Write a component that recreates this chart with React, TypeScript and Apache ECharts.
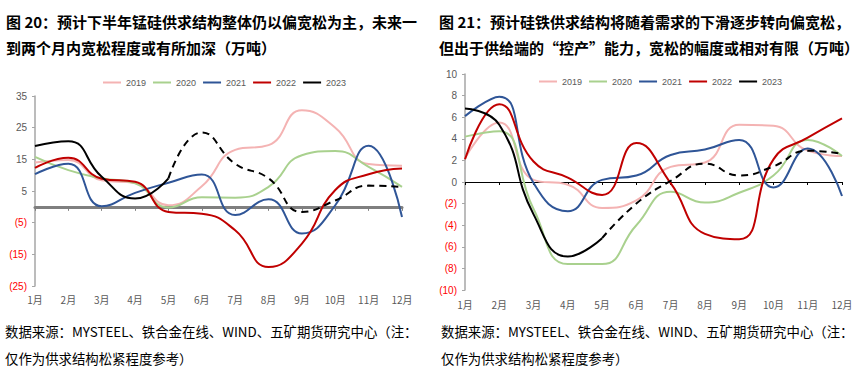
import React, { useEffect, useRef } from "react";
import * as echarts from "echarts";

const months = ["1月", "2月", "3月", "4月", "5月", "6月", "7月", "8月", "9月", "10月", "11月", "12月"];
const years = ["2019", "2020", "2021", "2022", "2023"];
const yearColors = ["#F4B3B3", "#A9D18E", "#2F5597", "#C00000", "#000000"];

// 图20 锰硅（万吨）
const mnSi2019 = [14, 14.8, 8.4, 7.5, 0.5, 6.5, 18, 19.5, 30.5, 25, 13.5, 13];
const mnSi2020 = [15.8, 11.6, 9, 7.4, -0.2, 3, 2.9, 6.3, 16.3, 17.6, 12.6, 6.3];
const mnSi2021 = [10.3, 13.6, 0.2, 4.4, 7.6, 10.2, -2.6, 2.4, -8.4, 0.5, 19.3, -3.2];
const mnSi2022 = [12.3, 15.5, 8.9, 7.9, -1.6, -2.2, -7.4, -19, -11.6, 5.3, 10.3, 12.1];
const mnSi2023 = [19.2, 20.7, 9.5, 2.6, 9];
const mnSi2023Forecast = [23.5, 13.6, 9, -1.6, 2, 6.7, 6.3];
const mnSiTicks = [35, 25, 15, 5, -5, -15, -25];

// 图21 硅铁（万吨）
const siFe2019 = [2.2, 5.5, 0.2, -0.25, -2.4, -1.7, 1.4, 1.8, 5.3, 5.2, 2.9, 2.4];
const siFe2020 = [4.2, 4.7, -2.5, -7.6, -7.6, -4, -0.9, -1.9, -1, 0.6, 3.9, 2.4];
const siFe2021 = [6.1, 7.9, -0.1, -2.7, 0.2, 0.6, 2.5, 3, 3.9, -0.5, 3.1, -1.3];
const siFe2022 = [2.1, 7.2, 1.9, 0.4, -1.2, 3.6, -0.1, -4.8, -5.3, 2.1, 4.1, 5.9];
const siFe2023 = [6.8, 5.3, -3, -6.9, -5.2];
const siFe2023Forecast = [-2, 0.1, 1.7, 0.6, 1.45, 2.9, 2.6];

const mnSiSeries = [mnSi2019, mnSi2020, mnSi2021, mnSi2022, mnSi2023];
const siFeSeries = [siFe2019, siFe2020, siFe2021, siFe2022, siFe2023];

const fmt = (v: number) => (v < 0 ? `(${-v})` : `${v}`);
const labelColor = (v: any) => (Number(v) < 0 ? "#FF0000" : "#595959");

function forecastData(actual: number[], fc: number[]) {
  const d: (number | null)[] = months.map(() => null);
  d[actual.length - 1] = actual[actual.length - 1];
  fc.forEach((v, i) => (d[actual.length + i] = v));
  return d;
}

function buildSeries(data: number[][], fc: number[], xIdx: number, yIdx: number, w: number) {
  const s: any[] = data.map((arr, i) => ({
    name: years[i],
    type: "line",
    xAxisIndex: xIdx,
    yAxisIndex: yIdx,
    data: arr,
    smooth: 0.5,
    symbol: "none",
    lineStyle: { color: yearColors[i], width: w },
    itemStyle: { color: yearColors[i] },
    z: i === 4 ? 5 : 3,
  }));
  s.push({
    name: "2023预测",
    type: "line",
    xAxisIndex: xIdx,
    yAxisIndex: yIdx,
    data: forecastData(data[4], fc),
    smooth: 0.5,
    symbol: "none",
    connectNulls: false,
    lineStyle: { color: "#000", width: w, type: [7, 5] },
    itemStyle: { color: "#000" },
    z: 5,
  });
  return s;
}

const fontLatin = "Arial, 'Liberation Sans', 'Noto Sans CJK SC', sans-serif";
const fontCJK = "'Noto Sans CJK SC', sans-serif";

export default function App() {
  const ref = useRef<HTMLDivElement>(null);
  useEffect(() => {
    const chart = echarts.init(ref.current!, null, { renderer: "svg" });
    const legendCommon = {
      data: years,
      icon: "rect",
      itemWidth: 18,
      itemHeight: 2,
      itemGap: 7,
      textStyle: { fontSize: 9, color: "#595959", fontFamily: fontLatin },
    };
    const footer = "数据来源：MYSTEEL、铁合金在线、WIND、五矿期货研究中心（注：\n仅作为供求结构松紧程度参考）";
    chart.setOption({
      animation: false,
      backgroundColor: "#fff",
      title: [
        {
          text: "图 20：预计下半年锰硅供求结构整体仍以偏宽松为主，未来一\n到两个月内宽松程度或有所加深（万吨）",
          left: 6,
          top: 8,
          padding: 0,
          textStyle: { fontSize: 15, fontWeight: "bold", color: "#000", lineHeight: 26, fontFamily: fontCJK },
        },
        {
          text: "图 21：预计硅铁供求结构将随着需求的下滑逐步转向偏宽松，\n但出于供给端的“控产”能力，宽松的幅度或相对有限（万吨）",
          left: 439,
          top: 8,
          padding: 0,
          textStyle: { fontSize: 15, fontWeight: "bold", color: "#000", lineHeight: 26, fontFamily: fontCJK },
        },
        {
          text: footer,
          left: 5,
          top: 317,
          padding: 0,
          textStyle: { fontSize: 13.4, fontWeight: "normal", color: "#000", lineHeight: 27, fontFamily: fontCJK },
        },
        {
          text: footer,
          left: 441,
          top: 317,
          padding: 0,
          textStyle: { fontSize: 13.4, fontWeight: "normal", color: "#000", lineHeight: 27, fontFamily: fontCJK },
        },
      ],
      legend: [
        { ...legendCommon, left: 98, top: 73 },
        { ...legendCommon, left: 534, top: 72 },
      ],
      grid: [
        { left: 35, top: 96, width: 367, height: 190 },
        { left: 465, top: 74, width: 377, height: 216 },
      ],
      xAxis: [
        {
          gridIndex: 0,
          type: "category",
          data: months,
          boundaryGap: false,
          position: "bottom",
          axisLine: { show: false, onZero: false },
          axisTick: { show: false },
          axisLabel: { margin: 8, fontSize: 10, color: "#595959", fontFamily: fontCJK },
        },
        {
          gridIndex: 0,
          type: "category",
          data: months,
          boundaryGap: false,
          position: "top",
          axisLine: { show: true, onZero: true, lineStyle: { color: "#7F7F7F", width: 3 } },
          axisTick: { show: true, inside: true, length: 4, lineStyle: { color: "#7F7F7F", width: 1 } },
          axisLabel: { show: false },
        },
        {
          gridIndex: 1,
          type: "category",
          data: months,
          boundaryGap: false,
          position: "bottom",
          axisLine: { show: false, onZero: false },
          axisTick: { show: false },
          axisLabel: { margin: 9, fontSize: 10, color: "#595959", fontFamily: fontCJK },
        },
        {
          gridIndex: 1,
          type: "category",
          data: months,
          boundaryGap: false,
          position: "top",
          axisLine: { show: true, onZero: true, lineStyle: { color: "#000", width: 1.2 } },
          axisTick: { show: true, inside: true, length: 3, lineStyle: { color: "#000", width: 1 } },
          axisLabel: { show: false },
        },
      ],
      yAxis: [
        {
          gridIndex: 0,
          type: "value",
          min: -25,
          max: 35,
          axisLine: { show: true, lineStyle: { color: "#A6A6A6", width: 1.5 } },
          axisTick: { show: true, length: 3, customValues: mnSiTicks, lineStyle: { color: "#A6A6A6" } },
          splitLine: { show: false },
          axisLabel: {
            customValues: mnSiTicks,
            margin: 8,
            fontSize: 10,
            fontFamily: fontLatin,
            formatter: fmt,
            color: labelColor,
          },
        },
        {
          gridIndex: 1,
          type: "value",
          min: -10,
          max: 10,
          interval: 2,
          axisLine: { show: true, lineStyle: { color: "#A6A6A6", width: 1.5 } },
          axisTick: { show: true, length: 3, lineStyle: { color: "#A6A6A6" } },
          splitLine: { show: false },
          axisLabel: {
            margin: 8,
            fontSize: 10,
            fontFamily: fontLatin,
            formatter: fmt,
            color: labelColor,
          },
        },
      ],
      series: [
        ...buildSeries(mnSiSeries, mnSi2023Forecast, 0, 0, 2),
        ...buildSeries(siFeSeries, siFe2023Forecast, 2, 1, 2),
      ],
    });
    return () => chart.dispose();
  }, []);
  return <div ref={ref} style={{ width: 864, height: 371, position: "absolute", left: 0, top: 0 }} />;
}
